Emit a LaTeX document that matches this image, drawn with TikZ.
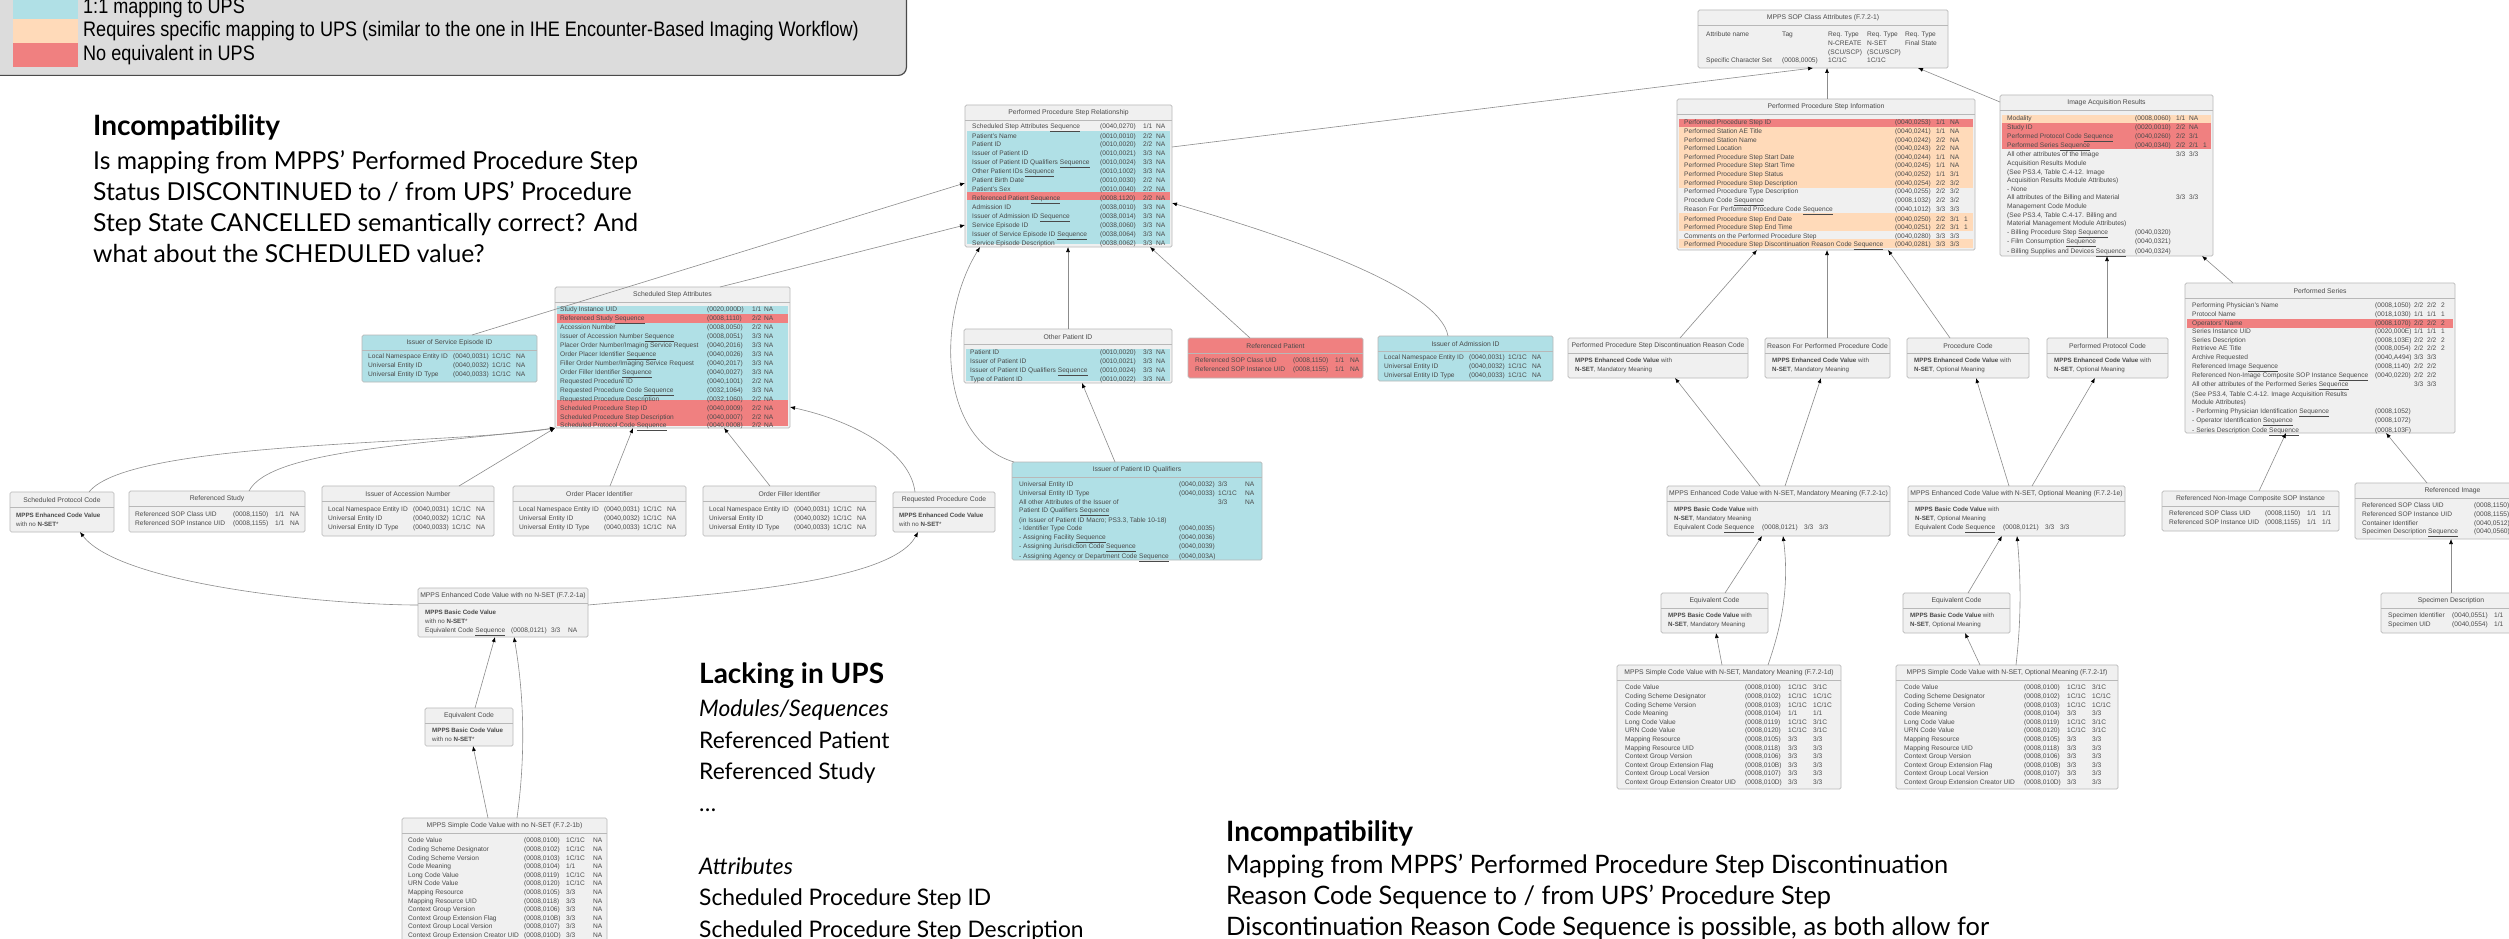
\documentclass[tikz,border=0pt]{standalone}
\usepackage{fontspec}
\setmainfont{Liberation Sans}
\newfontfamily\gill{Lato}
\newfontfamily\narrowf{Liberation Sans}[FakeStretch=0.86]
\usepackage{array}
\usetikzlibrary{arrows.meta}
\definecolor{cy}{HTML}{B0E0E6}
\definecolor{pe}{HTML}{FFDAB9}
\definecolor{rd}{HTML}{F08080}
\definecolor{bxbg}{HTML}{F0F0F0}
\definecolor{bxbd}{HTML}{B8B8B8}
\definecolor{txt}{HTML}{4A4A4A}
\definecolor{lnk}{HTML}{8C8C8C}
\definecolor{lgbg}{HTML}{DCDCDC}
\definecolor{lgbd}{HTML}{4A4A4A}
\newcolumntype{W}[1]{>{\hbox to #1\bgroup}l<{\hss\egroup}}
\newcommand\seqU{\underline{Sequence}}
\newcommand\ubox[7]{%
  \node[tbox, fill=#6, minimum width={(#4)-(#2)}, minimum height={(#5)-(#3)}] (#1) at (#2,#3) {};
  \draw[sepl] (#2,#3+15.5) -- (#4,#3+15.5);
  \node[hdr] (#1-h) at ({((#2)+(#4))/2},{(#3)+8}) {#7};}
\newcommand\hd[1]{{\fontsize{28}{31}\selectfont\textbf{#1}}}
\begin{document}
\begin{tikzpicture}[x=1pt,y=-1pt,
  tbox/.style={draw=bxbd, line width=0.7pt, rounded corners=1.5pt, inner sep=0pt, outer sep=0pt, anchor=north west},
  hdr/.style={font=\fontsize{6.8}{8}\selectfont, text=txt, inner sep=0pt},
  tb/.style={font=\fontsize{6.6}{8.6}\selectfont, text=txt, inner sep=0pt, anchor=north west},
  cb/.style={font=\fontsize{6.2}{8.6}\selectfont, text=txt, inner sep=0pt, anchor=north west},
  sepl/.style={draw=bxbd, line width=0.6pt},
  conn/.style={draw=lnk, line width=0.6pt, -{Latex[length=5pt,width=4pt,color=black]}},
  big/.style={font=\gill\fontsize{24.7}{31}\selectfont, align=left, inner sep=0pt, anchor=north west, text=black},
  lg/.style={font=\narrowf\fontsize{21}{22}\selectfont, anchor=west, inner sep=0pt, text=black}]
\useasboundingbox (0,0) rectangle (2509,939);
\fill[white] (0,0) rectangle (2509,939);

% legend
\node[draw=lgbd, fill=lgbg, line width=1.2pt, rounded corners=8pt, minimum width=937, minimum height=106, anchor=south east, inner sep=0pt] (legend) at (907,76) {};
\fill[cy] (13,-6) rectangle (78,19);
\fill[pe] (13,19) rectangle (78,43);
\fill[rd] (13,43) rectangle (78,67);
\node[lg] (lg1) at (83,8) {1:1 mapping to UPS};
\node[lg] (lg2) at (83,31) {Requires specific mapping to UPS (similar to the one in IHE Encounter-Based Imaging Workflow)};
\node[lg] (lg3) at (83,55) {No equivalent in UPS};

% big texts
\node[big] (txt1) at (93,114) {\strut\hd{Incompatibility}\\[3pt]
Is mapping from MPPS’ Performed Procedure Step\\
Status DISCONTINUED to / from UPS’ Procedure\\
Step State CANCELLED semantically correct? And\\
what about the SCHEDULED value?};
\node[big, font=\gill\fontsize{22.8}{31.5}\selectfont] (txt2) at (699,661) {\strut\hd{Lacking in UPS}\\[2pt]
\textit{Modules/Sequences}\\
Referenced Patient\\
Referenced Study\\
…\\
\mbox{}\\
\textit{Attributes}\\
Scheduled Procedure Step ID\\
Scheduled Procedure Step Description};
\node[big, font=\gill\fontsize{25.4}{31}\selectfont] (txt3) at (1226,820) {\strut\hd{Incompatibility}\\[1pt]
Mapping from MPPS’ Performed Procedure Step Discontinuation\\
Reason Code Sequence to / from UPS’ Procedure Step\\
Discontinuation Reason Code Sequence is possible, as both allow for};

% ---------- PPS Relationship
\ubox{ppsr}{965}{105}{1172}{247}{bxbg}{Performed Procedure Step Relationship}
\fill[cy] (967,131.3) rectangle (1170,191.5);
\fill[rd] (967,191.5) rectangle (1170,200.1);
\fill[cy] (967,200.1) rectangle (1170,243.7);
\node[tb] (ppsr-b) at (972,122.7) {\begin{tabular}{@{}W{128pt}@{}W{43pt}@{}W{13pt}@{}l@{}}
Scheduled Step Attributes \seqU & (0040,0270) & 1/1 & NA\\
Patient's Name & (0010,0010) & 2/2 & NA\\
Patient ID & (0010,0020) & 2/2 & NA\\
Issuer of Patient ID & (0010,0021) & 3/3 & NA\\
Issuer of Patient ID Qualifiers \seqU & (0010,0024) & 3/3 & NA\\
Other Patient IDs \seqU & (0010,1002) & 3/3 & NA\\
Patient Birth Date & (0010,0030) & 2/2 & NA\\
Patient's Sex & (0010,0040) & 2/2 & NA\\
Referenced Patient \seqU & (0008,1120) & 2/2 & NA\\
Admission ID & (0038,0010) & 3/3 & NA\\
Issuer of Admission ID \seqU & (0038,0014) & 3/3 & NA\\
Service Episode ID & (0038,0060) & 3/3 & NA\\
Issuer of Service Episode ID \seqU & (0038,0064) & 3/3 & NA\\
Service Episode Description & (0038,0062) & 3/3 & NA
\end{tabular}};

% ---------- Scheduled Step Attributes
\ubox{ssa}{555}{287}{790}{428}{bxbg}{Scheduled Step Attributes}
\fill[cy] (557,305.7) rectangle (788,314.3);
\fill[rd] (557,314.3) rectangle (788,322.9);
\fill[cy] (557,322.9) rectangle (788,400.3);
\fill[rd] (557,400.3) rectangle (788,426.1);
\node[tb] (ssa-b) at (560,305.7) {\begin{tabular}{@{}W{147pt}@{}W{45pt}@{}W{12pt}@{}l@{}}
Study Instance UID & (0020,000D) & 1/1 & NA\\
Referenced Study \seqU & (0008,1110) & 2/2 & NA\\
Accession Number & (0008,0050) & 2/2 & NA\\
Issuer of Accession Number \seqU & (0008,0051) & 3/3 & NA\\
Placer Order Number/Imaging Service Request & (0040,2016) & 3/3 & NA\\
Order Placer Identifier \seqU & (0040,0026) & 3/3 & NA\\
Filler Order Number/Imaging Service Request & (0040,2017) & 3/3 & NA\\
Order Filler Identifier \seqU & (0040,0027) & 3/3 & NA\\
Requested Procedure ID & (0040,1001) & 2/2 & NA\\
Requested Procedure Code \seqU & (0032,1064) & 3/3 & NA\\
Requested Procedure Description & (0032,1060) & 2/2 & NA\\
Scheduled Procedure Step ID & (0040,0009) & 2/2 & NA\\
Scheduled Procedure Step Description & (0040,0007) & 2/2 & NA\\
Scheduled Protocol Code \seqU & (0040,0008) & 2/2 & NA
\end{tabular}};

% ---------- issuers
\ubox{iseid}{362}{335}{537}{382}{cy}{Issuer of Service Episode ID}
\node[tb] (iseid-b) at (368,352.7) {\begin{tabular}{@{}W{85pt}@{}W{39pt}@{}W{24pt}@{}l@{}}
Local Namespace Entity ID & (0040,0031) & 1C/1C & NA\\
Universal Entity ID & (0040,0032) & 1C/1C & NA\\
Universal Entity ID Type & (0040,0033) & 1C/1C & NA
\end{tabular}};
\ubox{iadm}{1378}{336}{1553}{381}{cy}{Issuer of Admission ID}
\node[tb] (iadm-b) at (1384,353.7) {\begin{tabular}{@{}W{85pt}@{}W{39pt}@{}W{24pt}@{}l@{}}
Local Namespace Entity ID & (0040,0031) & 1C/1C & NA\\
Universal Entity ID & (0040,0032) & 1C/1C & NA\\
Universal Entity ID Type & (0040,0033) & 1C/1C & NA
\end{tabular}};
\ubox{opid}{964}{329}{1172}{383}{bxbg}{Other Patient ID}
\fill[cy] (966,348.7) rectangle (1170,381);
\node[tb] (opid-b) at (970,348.7) {\begin{tabular}{@{}W{130pt}@{}W{43pt}@{}W{13pt}@{}l@{}}
Patient ID & (0010,0020) & 3/3 & NA\\
Issuer of Patient ID & (0010,0021) & 3/3 & NA\\
Issuer of Patient ID Qualifiers \seqU & (0010,0024) & 3/3 & NA\\
Type of Patient ID & (0010,0022) & 3/3 & NA
\end{tabular}};
\ubox{refpat}{1188}{338}{1363}{378}{rd}{Referenced Patient}
\node[tb] (refpat-b) at (1195,356.7) {\begin{tabular}{@{}W{98pt}@{}W{42pt}@{}W{15pt}@{}l@{}}
Referenced SOP Class UID & (0008,1150) & 1/1 & NA\\
Referenced SOP Instance UID & (0008,1155) & 1/1 & NA
\end{tabular}};
\ubox{ipq}{1012}{462}{1262}{560}{cy}{Issuer of Patient ID Qualifiers}
\node[tb] (ipq-b) at (1019,480.7) {\begin{tabular}{@{}W{160pt}@{}W{39pt}@{}W{27pt}@{}l@{}}
Universal Entity ID & (0040,0032) & 3/3 & NA\\
Universal Entity ID Type & (0040,0033) & 1C/1C & NA\\
All other Attributes of the Issuer of & & 3/3 & NA\\
Patient ID Qualifiers \seqU\\
(in Issuer of Patient ID Macro; PS3.3, Table 10-18)\\
- Identifier Type Code & (0040,0035)\\
- Assigning Facility \seqU & (0040,0036)\\
- Assigning Jurisdiction Code \seqU & (0040,0039)\\
- Assigning Agency or Department Code \seqU & (0040,003A)
\end{tabular}};

% ---------- left lower row
\ubox{spc}{10}{492}{114}{532}{bxbg}{Scheduled Protocol Code}
\node[cb] (spc-b) at (16,511.7) {\begin{tabular}{@{}l@{}}\textbf{MPPS Enhanced Code Value}\\with no \textbf{N-SET}*\end{tabular}};
\ubox{refst}{129}{491}{305}{532}{bxbg}{Referenced Study}
\node[tb] (refst-b) at (135,510.7) {\begin{tabular}{@{}W{98pt}@{}W{42pt}@{}W{15pt}@{}l@{}}
Referenced SOP Class UID & (0008,1150) & 1/1 & NA\\
Referenced SOP Instance UID & (0008,1155) & 1/1 & NA
\end{tabular}};
\ubox{iacc}{322}{486}{494}{536}{bxbg}{Issuer of Accession Number}
\node[tb] (iacc-b) at (328,505.7) {\begin{tabular}{@{}W{85pt}@{}W{39pt}@{}W{24pt}@{}l@{}}
Local Namespace Entity ID & (0040,0031) & 1C/1C & NA\\
Universal Entity ID & (0040,0032) & 1C/1C & NA\\
Universal Entity ID Type & (0040,0033) & 1C/1C & NA
\end{tabular}};
\ubox{opi}{513}{486}{686}{536}{bxbg}{Order Placer Identifier}
\node[tb] (opi-b) at (519,505.7) {\begin{tabular}{@{}W{85pt}@{}W{39pt}@{}W{24pt}@{}l@{}}
Local Namespace Entity ID & (0040,0031) & 1C/1C & NA\\
Universal Entity ID & (0040,0032) & 1C/1C & NA\\
Universal Entity ID Type & (0040,0033) & 1C/1C & NA
\end{tabular}};
\ubox{ofi}{703}{486}{876}{536}{bxbg}{Order Filler Identifier}
\node[tb] (ofi-b) at (709,505.7) {\begin{tabular}{@{}W{85pt}@{}W{39pt}@{}W{24pt}@{}l@{}}
Local Namespace Entity ID & (0040,0031) & 1C/1C & NA\\
Universal Entity ID & (0040,0032) & 1C/1C & NA\\
Universal Entity ID Type & (0040,0033) & 1C/1C & NA
\end{tabular}};
\ubox{rpc}{893}{492}{995}{532}{bxbg}{Requested Procedure Code}
\node[cb] (rpc-b) at (899,511.7) {\begin{tabular}{@{}l@{}}\textbf{MPPS Enhanced Code Value}\\with no \textbf{N-SET}*\end{tabular}};

\ubox{enh0}{418}{588}{588}{637}{bxbg}{MPPS Enhanced Code Value with no N-SET (F.7.2-1a)}
\node[tb] (enh0-b) at (425,608.7) {\begin{tabular}{@{}W{86pt}@{}W{40pt}@{}W{17pt}@{}l@{}}
\multicolumn{4}{@{}l@{}}{\fontsize{6.2}{8.6}\selectfont\textbf{MPPS Basic Code Value}}\\
\multicolumn{4}{@{}l@{}}{\fontsize{6.2}{8.6}\selectfont with no \textbf{N-SET}*}\\
Equivalent Code \seqU & (0008,0121) & 3/3 & NA
\end{tabular}};
\ubox{eq0}{425}{708}{513}{746}{bxbg}{Equivalent Code}
\node[cb] (eq0-b) at (432,726.7) {\begin{tabular}{@{}l@{}}\textbf{MPPS Basic Code Value}\\with no \textbf{N-SET}*\end{tabular}};
\ubox{simp0}{402}{818}{607}{945}{bxbg}{MPPS Simple Code Value with no N-SET (F.7.2-1b)}
\node[tb] (simp0-b) at (408,836.7) {\begin{tabular}{@{}W{116pt}@{}W{42pt}@{}W{27pt}@{}l@{}}
Code Value & (0008,0100) & 1C/1C & NA\\
Coding Scheme Designator & (0008,0102) & 1C/1C & NA\\
Coding Scheme Version & (0008,0103) & 1C/1C & NA\\
Code Meaning & (0008,0104) & 1/1 & NA\\
Long Code Value & (0008,0119) & 1C/1C & NA\\
URN Code Value & (0008,0120) & 1C/1C & NA\\
Mapping Resource & (0008,0105) & 3/3 & NA\\
Mapping Resource UID & (0008,0118) & 3/3 & NA\\
Context Group Version & (0008,0106) & 3/3 & NA\\
Context Group Extension Flag & (0008,010B) & 3/3 & NA\\
Context Group Local Version & (0008,0107) & 3/3 & NA\\
Context Group Extension Creator UID & (0008,010D) & 3/3 & NA
\end{tabular}};

% ---------- right side
\ubox{mpps}{1698}{10}{1948}{68}{bxbg}{MPPS SOP Class Attributes (F.7.2-1)}
\node[tb] (mpps-b) at (1706,30.7) {\begin{tabular}{@{}W{76pt}@{}W{46pt}@{}W{39pt}@{}W{38pt}@{}l@{}}
Attribute name & Tag & Req. Type & Req. Type & Req. Type\\
 & & N-CREATE & N-SET & Final State\\
 & & (SCU/SCP) & (SCU/SCP) & \\
Specific Character Set & (0008,0005) & 1C/1C & 1C/1C &
\end{tabular}};

\ubox{ppsi}{1677}{99}{1975}{250}{bxbg}{Performed Procedure Step Information}
\fill[rd] (1679,118.7) rectangle (1973,127.3);
\fill[pe] (1679,127.3) rectangle (1973,187.5);
\fill[pe] (1679,213.3) rectangle (1973,230.5);
\fill[pe] (1679,239.1) rectangle (1973,247.7);
\node[tb] (ppsi-b) at (1684,118.7) {\begin{tabular}{@{}W{211pt}@{}W{41pt}@{}W{14pt}@{}W{14pt}@{}l@{}}
Performed Procedure Step ID & (0040,0253) & 1/1 & NA\\
Performed Station AE Title & (0040,0241) & 1/1 & NA\\
Performed Station Name & (0040,0242) & 2/2 & NA\\
Performed Location & (0040,0243) & 2/2 & NA\\
Performed Procedure Step Start Date & (0040,0244) & 1/1 & NA\\
Performed Procedure Step Start Time & (0040,0245) & 1/1 & NA\\
Performed Procedure Step Status & (0040,0252) & 1/1 & 3/1\\
Performed Procedure Step Description & (0040,0254) & 2/2 & 3/2\\
Performed Procedure Type Description & (0040,0255) & 2/2 & 3/2\\
Procedure Code \seqU & (0008,1032) & 2/2 & 3/2\\
Reason For Performed Procedure Code \seqU & (0040,1012) & 3/3 & 3/3\\
Performed Procedure Step End Date & (0040,0250) & 2/2 & 3/1 & 1\\
Performed Procedure Step End Time & (0040,0251) & 2/2 & 3/1 & 1\\
Comments on the Performed Procedure Step & (0040,0280) & 3/3 & 3/3\\
Performed Procedure Step Discontinuation Reason Code \seqU & (0040,0281) & 3/3 & 3/3
\end{tabular}};

\ubox{iar}{2000}{95}{2213}{256}{bxbg}{Image Acquisition Results}
\fill[pe] (2002,114.7) rectangle (2211,123.3);
\fill[rd] (2002,123.3) rectangle (2211,149.1);
\node[tb] (iar-b) at (2007,114.7) {\begin{tabular}{@{}W{128pt}@{}W{41pt}@{}W{13pt}@{}W{14pt}@{}l@{}}
Modality & (0008,0060) & 1/1 & NA\\
Study ID & (0020,0010) & 2/2 & NA\\
Performed Protocol Code \seqU & (0040,0260) & 2/2 & 3/1\\
Performed Series \seqU & (0040,0340) & 2/2 & 2/1 & 1\\
All other attributes of the Image & & 3/3 & 3/3\\
Acquisition Results Module\\
(See PS3.4, Table C.4-12. Image\\
Acquisition Results Module Attributes)\\
- None\\
All attributes of the Billing and Material & & 3/3 & 3/3\\
Management Code Module\\
(See PS3.4, Table C.4-17. Billing and\\
Material Management Module Attributes)\\
- Billing Procedure Step \seqU & (0040,0320)\\
- Film Consumption \seqU & (0040,0321)\\
- Billing Supplies and Devices \seqU & (0040,0324)
\end{tabular}};

\ubox{pser}{2185}{283}{2455}{433}{bxbg}{Performed Series}
\fill[rd] (2187,318.9) rectangle (2453,327.5);
\node[tb] (pser-b) at (2192,301.7) {\begin{tabular}{@{}W{183pt}@{}W{39pt}@{}W{13pt}@{}W{14pt}@{}l@{}}
Performing Physician's Name & (0008,1050) & 2/2 & 2/2 & 2\\
Protocol Name & (0018,1030) & 1/1 & 1/1 & 1\\
Operators' Name & (0008,1070) & 2/2 & 2/2 & 2\\
Series Instance UID & (0020,000E) & 1/1 & 1/1 & 1\\
Series Description & (0008,103E) & 2/2 & 2/2 & 2\\
Retrieve AE Title & (0008,0054) & 2/2 & 2/2 & 2\\
Archive Requested & (0040,A494) & 3/3 & 3/3\\
Referenced Image \seqU & (0008,1140) & 2/2 & 2/2\\
Referenced Non-Image Composite SOP Instance \seqU & (0040,0220) & 2/2 & 2/2\\
All other attributes of the Performed Series \seqU & & 3/3 & 3/3\\
(See PS3.4, Table C.4-12. Image Acquisition Results\\
Module Attributes)\\
- Performing Physician Identification \seqU & (0008,1052)\\
- Operator Identification \seqU & (0008,1072)\\
- Series Description Code \seqU & (0008,103F)
\end{tabular}};

\ubox{cdisc}{1568}{338}{1748}{378}{bxbg}{Performed Procedure Step Discontinuation Reason Code}
\node[cb] (cdisc-b) at (1575,356.7) {\begin{tabular}{@{}l@{}}\textbf{MPPS Enhanced Code Value} with\\\textbf{N-SET}, Mandatory Meaning\end{tabular}};
\ubox{creason}{1765}{338}{1890}{378}{bxbg}{Reason For Performed Procedure Code}
\node[cb] (creason-b) at (1772,356.7) {\begin{tabular}{@{}l@{}}\textbf{MPPS Enhanced Code Value} with\\\textbf{N-SET}, Mandatory Meaning\end{tabular}};
\ubox{cproc}{1907}{338}{2029}{378}{bxbg}{Procedure Code}
\node[cb] (cproc-b) at (1914,356.7) {\begin{tabular}{@{}l@{}}\textbf{MPPS Enhanced Code Value} with\\\textbf{N-SET}, Optional Meaning\end{tabular}};
\ubox{cprot}{2047}{338}{2168}{378}{bxbg}{Performed Protocol Code}
\node[cb] (cprot-b) at (2054,356.7) {\begin{tabular}{@{}l@{}}\textbf{MPPS Enhanced Code Value} with\\\textbf{N-SET}, Optional Meaning\end{tabular}};

\ubox{enhm}{1667}{486}{1890}{536}{bxbg}{MPPS Enhanced Code Value with N-SET, Mandatory Meaning (F.7.2-1c)}
\node[tb] (enhm-b) at (1674,505.7) {\begin{tabular}{@{}W{88pt}@{}W{42pt}@{}W{15pt}@{}l@{}}
\multicolumn{4}{@{}l@{}}{\fontsize{6.2}{8.6}\selectfont\textbf{MPPS Basic Code Value} with}\\
\multicolumn{4}{@{}l@{}}{\fontsize{6.2}{8.6}\selectfont\textbf{N-SET}, Mandatory Meaning}\\
Equivalent Code \seqU & (0008,0121) & 3/3 & 3/3
\end{tabular}};
\ubox{enho}{1908}{486}{2125}{536}{bxbg}{MPPS Enhanced Code Value with N-SET, Optional Meaning (F.7.2-1e)}
\node[tb] (enho-b) at (1915,505.7) {\begin{tabular}{@{}W{88pt}@{}W{42pt}@{}W{15pt}@{}l@{}}
\multicolumn{4}{@{}l@{}}{\fontsize{6.2}{8.6}\selectfont\textbf{MPPS Basic Code Value} with}\\
\multicolumn{4}{@{}l@{}}{\fontsize{6.2}{8.6}\selectfont\textbf{N-SET}, Optional Meaning}\\
Equivalent Code \seqU & (0008,0121) & 3/3 & 3/3
\end{tabular}};
\ubox{eqm}{1661}{593}{1768}{633}{bxbg}{Equivalent Code}
\node[cb] (eqm-b) at (1668,611.7) {\begin{tabular}{@{}l@{}}\textbf{MPPS Basic Code Value} with\\\textbf{N-SET}, Mandatory Meaning\end{tabular}};
\ubox{eqo}{1903}{593}{2010}{633}{bxbg}{Equivalent Code}
\node[cb] (eqo-b) at (1910,611.7) {\begin{tabular}{@{}l@{}}\textbf{MPPS Basic Code Value} with\\\textbf{N-SET}, Optional Meaning\end{tabular}};

\ubox{simpm}{1617}{665}{1841}{789}{bxbg}{MPPS Simple Code Value with N-SET, Mandatory Meaning (F.7.2-1d)}
\node[tb] (simpm-b) at (1625,683.7) {\begin{tabular}{@{}W{120pt}@{}W{43pt}@{}W{25pt}@{}l@{}}
Code Value & (0008,0100) & 1C/1C & 3/1C\\
Coding Scheme Designator & (0008,0102) & 1C/1C & 1C/1C\\
Coding Scheme Version & (0008,0103) & 1C/1C & 1C/1C\\
Code Meaning & (0008,0104) & 1/1 & 1/1\\
Long Code Value & (0008,0119) & 1C/1C & 3/1C\\
URN Code Value & (0008,0120) & 1C/1C & 3/1C\\
Mapping Resource & (0008,0105) & 3/3 & 3/3\\
Mapping Resource UID & (0008,0118) & 3/3 & 3/3\\
Context Group Version & (0008,0106) & 3/3 & 3/3\\
Context Group Extension Flag & (0008,010B) & 3/3 & 3/3\\
Context Group Local Version & (0008,0107) & 3/3 & 3/3\\
Context Group Extension Creator UID & (0008,010D) & 3/3 & 3/3
\end{tabular}};
\ubox{simpo}{1896}{665}{2118}{789}{bxbg}{MPPS Simple Code Value with N-SET, Optional Meaning (F.7.2-1f)}
\node[tb] (simpo-b) at (1904,683.7) {\begin{tabular}{@{}W{120pt}@{}W{43pt}@{}W{25pt}@{}l@{}}
Code Value & (0008,0100) & 1C/1C & 3/1C\\
Coding Scheme Designator & (0008,0102) & 1C/1C & 1C/1C\\
Coding Scheme Version & (0008,0103) & 1C/1C & 1C/1C\\
Code Meaning & (0008,0104) & 3/3 & 3/3\\
Long Code Value & (0008,0119) & 1C/1C & 3/1C\\
URN Code Value & (0008,0120) & 1C/1C & 3/1C\\
Mapping Resource & (0008,0105) & 3/3 & 3/3\\
Mapping Resource UID & (0008,0118) & 3/3 & 3/3\\
Context Group Version & (0008,0106) & 3/3 & 3/3\\
Context Group Extension Flag & (0008,010B) & 3/3 & 3/3\\
Context Group Local Version & (0008,0107) & 3/3 & 3/3\\
Context Group Extension Creator UID & (0008,010D) & 3/3 & 3/3
\end{tabular}};

\ubox{rni}{2162}{491}{2339}{531}{bxbg}{Referenced Non-Image Composite SOP Instance}
\node[tb] (rni-b) at (2169,509.7) {\begin{tabular}{@{}W{96pt}@{}W{42pt}@{}W{15pt}@{}l@{}}
Referenced SOP Class UID & (0008,1150) & 1/1 & 1/1\\
Referenced SOP Instance UID & (0008,1155) & 1/1 & 1/1
\end{tabular}};
\ubox{refimg}{2355}{483}{2550}{539}{bxbg}{Referenced Image}
\node[tb] (refimg-b) at (2362,501.7) {\begin{tabular}{@{}W{112pt}@{}W{42pt}@{}W{15pt}@{}l@{}}
Referenced SOP Class UID & (0008,1150) & 1/1 & 1/1\\
Referenced SOP Instance UID & (0008,1155) & 1/1 & 1/1\\
Container Identifier & (0040,0512) & 1/1 & 1/1\\
Specimen Description \seqU & (0040,0560) & 1/1 & 1/1
\end{tabular}};
\ubox{specd}{2381}{593}{2521}{633}{bxbg}{Specimen Description}
\node[tb] (specd-b) at (2388,611.7) {\begin{tabular}{@{}W{64pt}@{}W{42pt}@{}W{15pt}@{}l@{}}
Specimen Identifier & (0040,0551) & 1/1 & 1/1\\
Specimen UID & (0040,0554) & 1/1 & 1/1
\end{tabular}};

% ---------- connectors
\draw[conn] ([xshift=110pt]iseid.north west) -- ([yshift=-78pt]ppsr.north west);
\draw[conn] ([xshift=165pt]ssa.north west) -- ([yshift=-120pt]ppsr.north west);
\draw[conn] ([xshift=104pt]opid.north west) -- ([xshift=103pt]ppsr.south west);
\draw[conn] ([xshift=62pt]refpat.north west) -- ([xshift=185pt]ppsr.south west);
\draw[conn] ([xshift=70pt]iadm.north west) .. controls (1440,290) and (1300,240) .. ([yshift=-98pt]ppsr.north east);
\draw[conn] ([xshift=2pt]ipq.north west) .. controls (940,440) and (935,320) .. ([xshift=15pt]ppsr.south west);
\draw[conn] ([xshift=103pt]ipq.north west) -- ([xshift=118pt]opid.south west);
\draw[conn] ([yshift=-42pt]ppsr.north east) -- ([xshift=115pt]mpps.south west);
\draw[conn] ([xshift=150pt]ppsi.north west) -- ([xshift=129pt]mpps.south west);
\draw[conn] ([yshift=-7pt]iar.north west) -- ([xshift=220pt]mpps.south west);
\draw[conn] ([xshift=112pt]cdisc.north west) -- ([xshift=80pt]ppsi.south west);
\draw[conn] ([xshift=62pt]creason.north west) -- ([xshift=150pt]ppsi.south west);
\draw[conn] ([xshift=43pt]cproc.north west) -- ([xshift=211pt]ppsi.south west);
\draw[conn] ([xshift=60pt]cprot.north west) -- ([xshift=107pt]iar.south west);
\draw[conn] ([xshift=48pt]pser.north west) -- ([xshift=202pt]iar.south west);
\draw[conn] ([xshift=93pt]enhm.north west) -- ([xshift=107pt]cdisc.south west);
\draw[conn] ([xshift=118pt]enhm.north west) -- ([xshift=56pt]creason.south west);
\draw[conn] ([xshift=101pt]enho.north west) -- ([xshift=69pt]cproc.south west);
\draw[conn] ([xshift=124pt]enho.north west) -- ([xshift=48pt]cprot.south west);
\draw[conn] ([xshift=64pt]eqm.north west) -- ([xshift=95pt]enhm.south west);
\draw[conn] ([xshift=151pt]simpm.north west) .. controls (1780,630) and (1790,590) .. ([xshift=116pt]enhm.south west);
\draw[conn] ([xshift=105pt]simpm.north west) -- ([xshift=55pt]eqm.south west);
\draw[conn] ([xshift=65pt]eqo.north west) -- ([xshift=94pt]enho.south west);
\draw[conn] ([xshift=120pt]simpo.north west) .. controls (2020,630) and (2022,590) .. ([xshift=109pt]enho.south west);
\draw[conn] ([xshift=84pt]simpo.north west) -- ([xshift=62pt]eqo.south west);
\draw[conn] ([xshift=97pt]rni.north west) -- ([xshift=101pt]pser.south west);
\draw[conn] ([xshift=72pt]refimg.north west) -- ([xshift=201pt]pser.south west);
\draw[conn] ([xshift=70pt]specd.north west) -- ([xshift=96pt]refimg.south west);
\draw[conn] ([xshift=79pt]spc.north west) .. controls (130,440) and (450,445) .. (ssa.south west);
\draw[conn] ([xshift=120pt]refst.north west) .. controls (270,450) and (420,445) .. (ssa.south west);
\draw[conn] ([xshift=137pt]iacc.north west) -- (ssa.south west);
\draw[conn] ([xshift=97pt]opi.north west) -- ([xshift=78pt]ssa.south west);
\draw[conn] ([xshift=67pt]ofi.north west) -- ([xshift=169pt]ssa.south west);
\draw[conn] ([xshift=22pt]rpc.north west) .. controls (910,450) and (850,420) .. ([yshift=-120pt]ssa.north east);
\draw[conn] ([yshift=-17pt]enh0.north west) .. controls (330,605) and (120,585) .. ([xshift=70pt]spc.south west);
\draw[conn] ([yshift=-17pt]enh0.north east) .. controls (700,595) and (890,585) .. ([xshift=25pt]rpc.south west);
\draw[conn] ([xshift=50pt]eq0.north west) -- ([xshift=77pt]enh0.south west);
\draw[conn] ([xshift=115pt]simp0.north west) .. controls (525,760) and (525,700) .. ([xshift=96pt]enh0.south west);
\draw[conn] ([xshift=86pt]simp0.north west) -- ([xshift=48pt]eq0.south west);
\end{tikzpicture}
\end{document}
